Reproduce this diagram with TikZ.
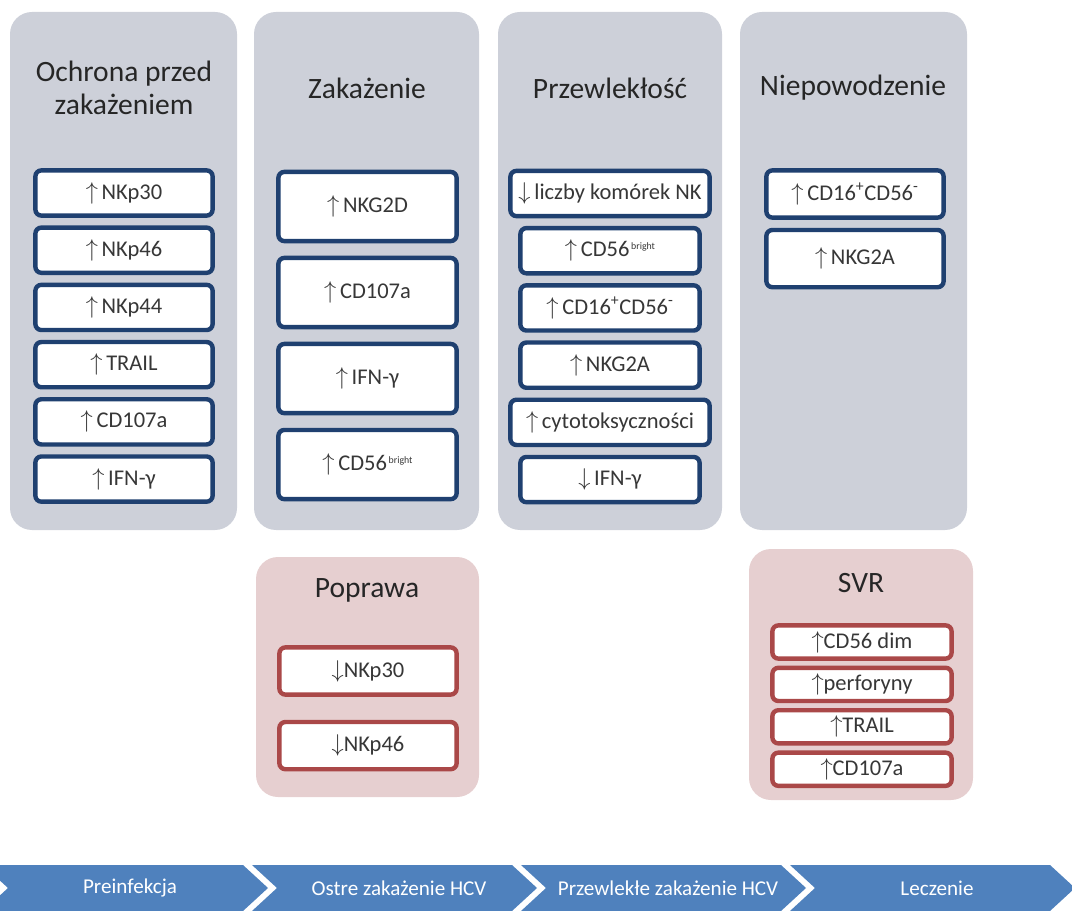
\documentclass[tikz,border=0pt]{standalone}
\usepackage{fontspec}
\setmainfont{Carlito}
\usepackage{tikz}
\usetikzlibrary{positioning}
\definecolor{PanelGrey}{RGB}{205,208,217}
\definecolor{PanelPink}{RGB}{230,207,208}
\definecolor{DkNavy}{RGB}{31,64,112}
\definecolor{DkRed}{RGB}{170,72,72}
\definecolor{ChevBlue}{RGB}{79,129,189}
\definecolor{TxtGrey}{RGB}{55,55,55}
\newcommand{\upar}{$\uparrow$\,}
\newcommand{\dnar}{$\downarrow$\,}
\newcommand{\brt}{\raisebox{0.7ex}{\fontsize{7}{8}\selectfont\,bright}}

\begin{document}
\begin{tikzpicture}[x=0.025cm,y=-0.025cm,
  node distance=0.19cm,
  gpanel/.style={fill=PanelGrey,rounded corners=0.55cm},
  rpanel/.style={fill=PanelPink,rounded corners=0.55cm},
  ttl/.style={align=center,font=\fontsize{21}{23}\selectfont,text=black!85},
  bbox/.style={rectangle,draw=DkNavy,fill=white,line width=0.11cm,rounded corners=0.15cm,
    minimum width=4.43cm,minimum height=1.13cm,inner sep=0pt,
    font=\fontsize{16}{18}\selectfont,text=TxtGrey},
  tbox/.style={bbox,minimum width=4.455cm,minimum height=1.73cm},
  rbox/.style={bbox,draw=DkRed},
  chev/.style={fill=ChevBlue},
  clab/.style={font=\fontsize{15}{17}\selectfont,text=white}
]
\clip (0,0) rectangle (1072,911);

% panels
\fill[gpanel] (10,12) rectangle (237,530);
\fill[gpanel] (254,12) rectangle (479,530);
\fill[gpanel] (498,12) rectangle (722,530);
\fill[gpanel] (740,12) rectangle (967,530);
\fill[rpanel] (256,557) rectangle (479,797);
\fill[rpanel] (749,549) rectangle (973,800);

% titles
\node[ttl] (t1) at (124,88) {Ochrona przed\\zakażeniem};
\node[ttl] (t2) at (367,88) {Zakażenie};
\node[ttl] (t3) at (610,88) {Przewlekłość};
\node[ttl] (t4) at (853,88) {Niepowodzenie};
\node[ttl] (t5) at (367,590) {Poprawa};
\node[ttl] (t6) at (861,583) {SVR};

% Ochrona przed zakazeniem
\node[bbox] (a1) at (124,193) {\upar NKp30};
\node[bbox,below=of a1] (a2) {\upar NKp46};
\node[bbox,below=of a2] (a3) {\upar NKp44};
\node[bbox,below=of a3] (a4) {\upar TRAIL};
\node[bbox,below=of a4] (a5) {\upar CD107a};
\node[bbox,below=of a5] (a6) {\upar IFN-γ};

% Zakazenie
\node[tbox] (b1) at (367.5,206.5) {\upar NKG2D};
\node[tbox,below=0.31cm of b1] (b2) {\upar CD107a};
\node[tbox,below=0.31cm of b2] (b3) {\upar IFN-γ};
\node[tbox,below=0.31cm of b3] (b4) {\upar CD56\brt};

% Przewleklosc
\node[bbox,minimum width=4.98cm] (c1) at (610,193.5) {\dnar liczby komórek NK};
\node[bbox,minimum width=4.48cm,below=of c1] (c2) {\upar CD56\brt};
\node[bbox,minimum width=4.48cm,below=of c2] (c3) {\upar CD16\textsuperscript{+}CD56\textsuperscript{-}};
\node[bbox,minimum width=4.48cm,below=of c3] (c4) {\upar NKG2A};
\node[bbox,minimum width=4.98cm,below=of c4] (c5) {\upar cytotoksyczności};
\node[bbox,minimum width=4.48cm,below=of c5] (c6) {\dnar IFN-γ};

% Niepowodzenie
\node[bbox,minimum height=1.18cm] (d1) at (855,194) {\upar CD16\textsuperscript{+}CD56\textsuperscript{-}};
\node[bbox,minimum height=1.43cm,below=0.2cm of d1] (d2) {\upar NKG2A};

% Poprawa
\node[rbox,minimum height=1.18cm] (e1) at (368,671) {$\downarrow$NKp30};
\node[rbox,minimum height=1.18cm,below=0.575cm of e1] (e2) {$\downarrow$NKp46};

% SVR
\node[rbox,minimum width=4.48cm,minimum height=0.83cm] (f1) at (862,642) {$\uparrow$CD56 dim};
\node[rbox,minimum width=4.48cm,minimum height=0.83cm,below=0.12cm of f1] (f2) {$\uparrow$perforyny};
\node[rbox,minimum width=4.48cm,minimum height=0.83cm,below=0.12cm of f2] (f3) {$\uparrow$TRAIL};
\node[rbox,minimum width=4.48cm,minimum height=0.83cm,below=0.12cm of f3] (f4) {$\uparrow$CD107a};

% timeline
\fill[chev] (-17,865) -- (243,865) -- (268,888) -- (243,911) -- (-17,911) -- (8,888) -- cycle;
\fill[chev] (252,865) -- (512,865) -- (537,888) -- (512,911) -- (252,911) -- (277,888) -- cycle;
\fill[chev] (521,865) -- (781,865) -- (806,888) -- (781,911) -- (521,911) -- (546,888) -- cycle;
\fill[chev] (790,865) -- (1050,865) -- (1075,888) -- (1050,911) -- (790,911) -- (815,888) -- cycle;
\node[clab] (g1) at (130,888) {Preinfekcja};
\node[clab] (g2) at (399,888) {Ostre zakażenie HCV};
\node[clab] (g3) at (668,888) {Przewlekłe zakażenie HCV};
\node[clab] (g4) at (937,888) {Leczenie};
\end{tikzpicture}
\end{document}
